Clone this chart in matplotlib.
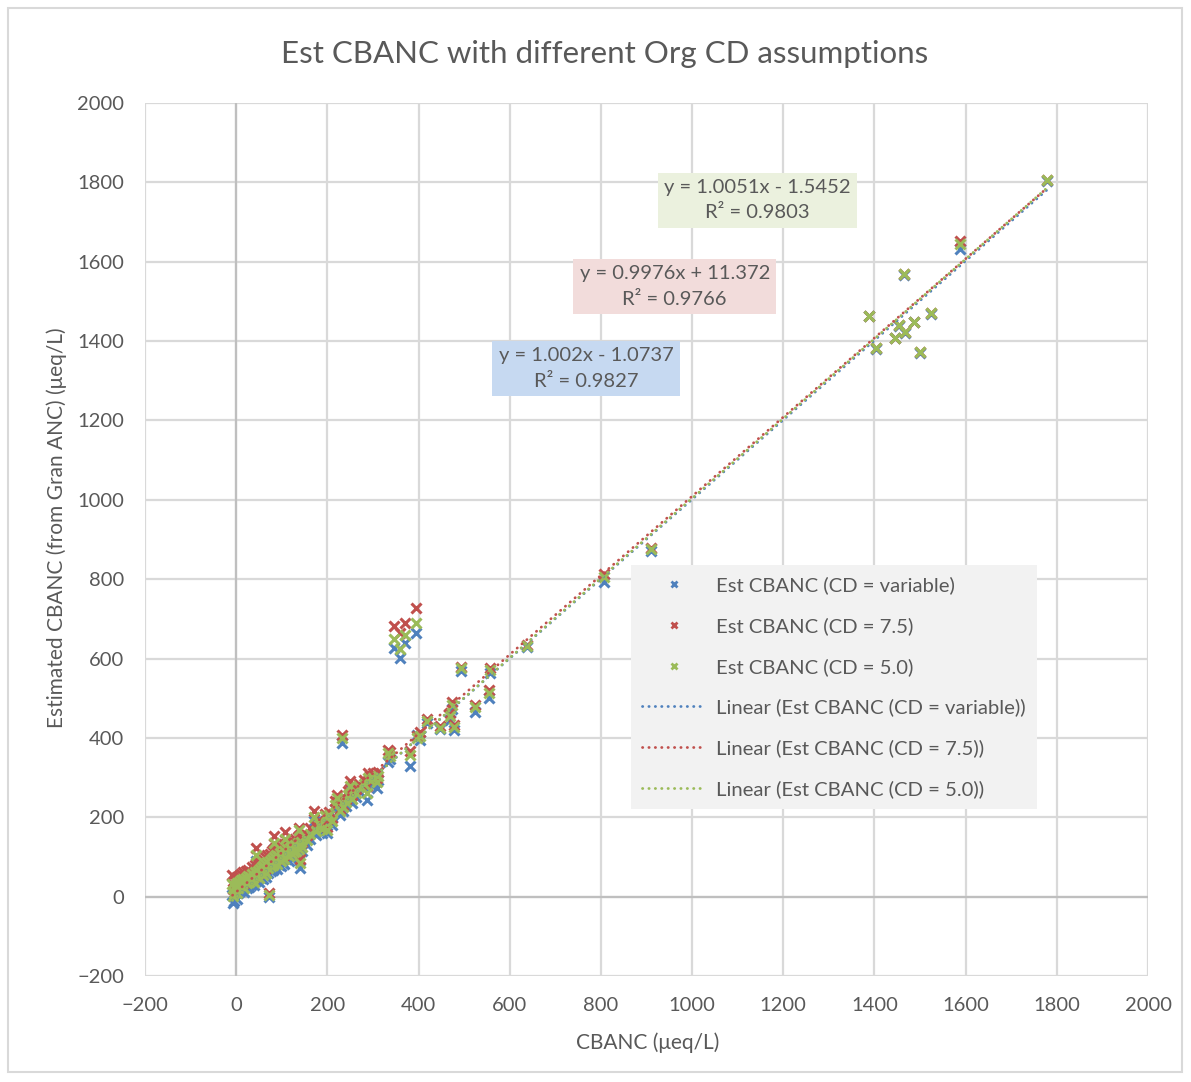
import matplotlib
matplotlib.use("Agg")
import matplotlib.pyplot as plt
from matplotlib.lines import Line2D
from matplotlib.patches import Rectangle
import numpy as np

plt.rcParams['font.family'] = ['Lato', 'DejaVu Sans']

# CBANC (x) and estimated CBANC for three organic charge-density assumptions
cbanc = [
    -8, -6, -4, -2, 0, 2, 3, 5, 7, 9, 11, 13, 15, 17, 19, 21, 23, 25, 27, 29,
    31, 33, 35, 37, 39, 41, 43, 44, 46, 48, 50, 52, 54, 56, 58, 60, 62, 64, 66, 68,
    70, 73, 74, 76, 78, 80, 82, 83, 84, 86, 88, 90, 92, 94, 96, 98, 100, 102, 104, 106,
    108, 110, 112, 115, 118, 120, 123, 126, 129, 132, 135, 137, 138, 140, 142, 145,
    155, 162, 170, 175, 181, 188, 195, 199, 203, 210, 217, 221, 228, 232, 235, 240,
    246, 250, 255, 262, 270, 280, 287, 290, 294, 300, 309, 312,
    334, 338, 347, 360, 371, 382, 395, 397, 404, 419, 448, 470, 473, 478, 493, 525,
    554, 556, 638, 806, 910,
    1389, 1404, 1446, 1454, 1465, 1468, 1487, 1499, 1523, 1587, 1779,
]
est_cd_variable = [
    5, -16, -10, 8, 12, -5, 18, 10, 22, 15, 25, 20, 30, 12, 28, 35, 22, 30, 40, 25,
    38, 30, 45, 35, 28, 48, 40, 90, 45, 52, 38, 55, 48, 60, 45, 62, 55, 68, 50, 72,
    60, 0, 75, 65, 80, 68, 72, 120, 85, 75, 90, 70, 88, 80, 95, 78, 92, 85, 100, 82,
    130, 95, 105, 90, 108, 98, 112, 100, 118, 105, 122, 150, 110, 73, 125, 115,
    130, 145, 190, 155, 170, 160, 190, 160, 195, 180, 220, 238, 205, 386, 215, 228,
    245, 270, 235, 250, 265, 275, 244, 290, 285, 290, 274, 295,
    339, 348, 627, 602, 640, 330, 665, 408, 395, 438, 422, 446, 474, 420, 568, 466,
    500, 563, 628, 792, 870,
    1462, 1380, 1407, 1438, 1566, 1421, 1447, 1370, 1469, 1633, 1803,
]
est_cd_75 = [
    55, 20, 28, 40, 46, 25, 50, 38, 52, 40, 58, 45, 62, 35, 55, 65, 48, 55, 68, 50,
    62, 55, 75, 58, 50, 80, 65, 123, 70, 82, 60, 88, 72, 95, 68, 92, 80, 100, 72, 105,
    85, 10, 108, 90, 115, 95, 100, 152, 120, 102, 125, 95, 118, 108, 128, 102, 122, 112, 132, 105,
    162, 122, 135, 115, 138, 122, 140, 125, 145, 128, 150, 172, 132, 95, 150, 138,
    155, 172, 215, 178, 190, 180, 208, 175, 212, 198, 240, 255, 222, 408, 232, 245,
    265, 291, 255, 270, 285, 295, 280, 312, 303, 312, 300, 315,
    370, 365, 683, 665, 690, 366, 728, 404, 415, 448, 430, 462, 490, 432, 578, 484,
    520, 575, 635, 812, 878,
    1463, 1383, 1409, 1440, 1568, 1423, 1449, 1373, 1472, 1652, 1806,
]
est_cd_50 = [
    32, 2, 10, 25, 30, 10, 35, 22, 38, 28, 42, 32, 45, 22, 40, 48, 35, 42, 52, 38,
    50, 42, 58, 46, 38, 62, 52, 105, 56, 65, 48, 70, 60, 75, 55, 76, 66, 82, 60, 86,
    72, 5, 90, 78, 95, 80, 85, 135, 100, 88, 105, 82, 102, 94, 110, 90, 106, 98, 115, 94,
    145, 108, 120, 102, 122, 110, 125, 112, 130, 116, 135, 168, 120, 85, 138, 126,
    142, 158, 200, 165, 181, 170, 202, 169, 205, 190, 232, 249, 215, 400, 225, 238,
    257, 280, 245, 260, 275, 285, 262, 300, 295, 300, 290, 305,
    362, 355, 650, 624, 660, 357, 690, 400, 405, 442, 425, 454, 484, 428, 575, 478,
    512, 572, 632, 805, 876,
    1463, 1382, 1408, 1440, 1568, 1423, 1449, 1372, 1471, 1645, 1805,
]

series_labels = ["Est CBANC (CD = variable)", "Est CBANC (CD = 7.5)", "Est CBANC (CD = 5.0)"]
series_colors = ["#4F81BD", "#C0504D", "#9BBB59"]
box_colors = ["#C6D9F1", "#F2DCDB", "#EBF1DE"]

# Linear trendline coefficients (slope, intercept) and R² for each series
slopes = [1.002, 0.9976, 1.0051]
intercepts = [-1.0737, 11.372, -1.5452]
r_squared = [0.9827, 0.9766, 0.9803]
equation_text = ["y = 1.002x - 1.0737", "y = 0.9976x + 11.372", "y = 1.0051x - 1.5452"]
equation_pos = [(768, 1331), (962, 1538), (1143, 1755)]

text_color = "#595959"
grid_color = "#D9D9D9"

fig = plt.figure(figsize=(11.91, 10.82), dpi=100)
ax = fig.add_axes([0.1217, 0.0980, 0.8422, 0.8068])

x = np.array(cbanc, dtype=float)
ys = [np.array(est_cd_variable, float), np.array(est_cd_75, float), np.array(est_cd_50, float)]

for y, c in zip(ys, series_colors):
    ax.plot(x, y, linestyle="none", marker="x", markersize=6.5, markeredgewidth=2.2,
            color=c, zorder=3)

xfit = np.array([x.min(), x.max()])
for m, b, c in zip(slopes, intercepts, series_colors):
    ax.plot(xfit, m * xfit + b, color=c, linewidth=2.0, linestyle=(0, (0.1, 2.2)),
            dash_capstyle="round", zorder=4)

for (ex, ey), eq, r2, bc in zip(equation_pos, equation_text, r_squared, box_colors):
    ax.text(ex, ey, f"{eq}\nR² = {r2:.4f}", ha="center", va="center",
            multialignment="center", fontsize=14.5, color=text_color, linespacing=1.6,
            zorder=5, bbox=dict(boxstyle="square,pad=0.32", fc=bc, ec="none"))

ax.set_xlim(-200, 2000)
ax.set_ylim(-200, 2000)
ax.set_xticks(np.arange(-200, 2001, 200))
ax.set_yticks(np.arange(-200, 2001, 200))
ax.grid(True, color=grid_color, linewidth=1.6, zorder=0)
ax.axvline(0, color="#BFBFBF", linewidth=1.6, zorder=1)
ax.axhline(0, color="#BFBFBF", linewidth=1.6, zorder=1)
ax.set_axisbelow(True)
for s in ax.spines.values():
    s.set_visible(False)
ax.tick_params(length=0, labelsize=14.5, labelcolor=text_color, pad=15)

ax.set_xlabel("CBANC (μeq/L)", fontsize=15, color=text_color)
ax.set_ylabel("Estimated CBANC (from Gran ANC) (μeq/L)", fontsize=15, color=text_color)
ax.xaxis.set_label_coords(0.5012, -0.065)
ax.yaxis.set_label_coords(-0.0775, 0.514)
fig.text(0.5075, 0.950, "Est CBANC with different Org CD assumptions", ha="center", va="center",
         fontsize=22.5, color=text_color)

handles = [Line2D([], [], linestyle="none", marker="x", markersize=5, markeredgewidth=2, color=c)
           for c in series_colors]
handles += [Line2D([], [], color=c, linewidth=2.0, linestyle=(0, (0.1, 2.2)), dash_capstyle="round")
            for c in series_colors]
labels = series_labels + [f"Linear ({l})" for l in series_labels]
leg = ax.legend(handles, labels, loc="upper left", bbox_to_anchor=(0.4846, 0.4708),
                borderaxespad=0, frameon=True, fancybox=False, fontsize=14.6,
                labelcolor=text_color, handlelength=3.1, handletextpad=0.55,
                labelspacing=1.13, borderpad=0.55, numpoints=1)
leg.get_frame().set_facecolor("#F2F2F2")
leg.get_frame().set_edgecolor("none")
leg.get_frame().set_alpha(1)
leg.set_zorder(6)

fig.patches.append(Rectangle((8, 10), 1174, 1064, transform=None, fill=False,
                             edgecolor="#D9D9D9", linewidth=1.5))

fig.savefig("out.png", dpi=100)
